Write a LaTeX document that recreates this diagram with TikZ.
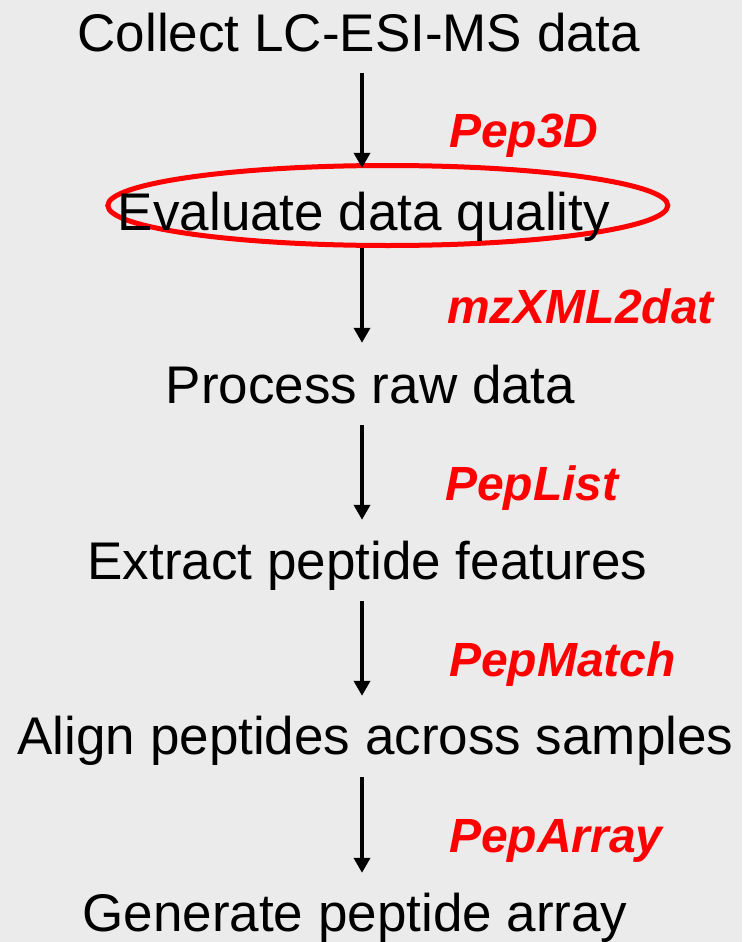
\documentclass[tikz,border=0pt]{standalone}
\usepackage{fontspec}
\setmainfont{Liberation Sans}
\usetikzlibrary{arrows.meta,shapes.geometric}
\definecolor{bggray}{RGB}{235,235,235}
\definecolor{labred}{RGB}{255,0,0}
\tikzset{
  stepnode/.style={inner sep=0pt, anchor=base, text height=40pt, text depth=12pt,
    font=\fontsize{53}{60}\selectfont},
  toolnode/.style={inner sep=0pt, anchor=base west, text=labred,
    font=\fontsize{48}{54}\selectfont\bfseries\itshape},
  flowarrow/.style={line width=3.6pt, -{Triangle[width=16pt,length=15pt]}},
  ringnode/.style={ellipse, draw=labred, line width=5pt, inner sep=0pt,
    minimum width=560pt, minimum height=80pt}
}
\begin{document}
\begin{tikzpicture}[x=1pt,y=-1pt]
\fill[bggray] (0,0) rectangle (742,942);
\useasboundingbox (0,0) rectangle (742,942);
\coordinate (ax) at (362,0);
\node[ringnode] (ring) at (387.8,205.5) {};
\node[stepnode] (collect) at (359,51.7) {Collect LC-ESI-MS data};
\node[stepnode] (eval) at (364,230) {Evaluate data quality};
\node[stepnode] (proc) at (370.5,403) {Process raw data};
\node[stepnode] (extract) at (367.5,579) {Extract peptide features};
\node[stepnode] (align) at (375.5,754) {Align peptides across samples};
\node[stepnode] (gen) at (355,931) {Generate peptide array};
\node[toolnode] (t1) at (449,147) {Pep3D};
\node[toolnode] (t2) at (447,323) {mzXML2dat};
\node[toolnode] (t3) at (445,500) {PepList};
\node[toolnode] (t4) at (449,676) {PepMatch};
\node[toolnode] (t5) at (449,852) {PepArray};
\draw[flowarrow, shorten <=9pt, shorten >=22pt] (collect.south -| ax) -- (eval.north -| ax);
\draw[flowarrow, shorten <=6pt, shorten >=20pt] (eval.south -| ax) -- (proc.north -| ax);
\draw[flowarrow, shorten <=10pt, shorten >=19pt] (proc.south -| ax) -- (extract.north -| ax);
\draw[flowarrow, shorten <=10pt, shorten >=18pt] (extract.south -| ax) -- (align.north -| ax);
\draw[flowarrow, shorten <=11pt, shorten >=18pt] (align.south -| ax) -- (gen.north -| ax);
\end{tikzpicture}
\end{document}
